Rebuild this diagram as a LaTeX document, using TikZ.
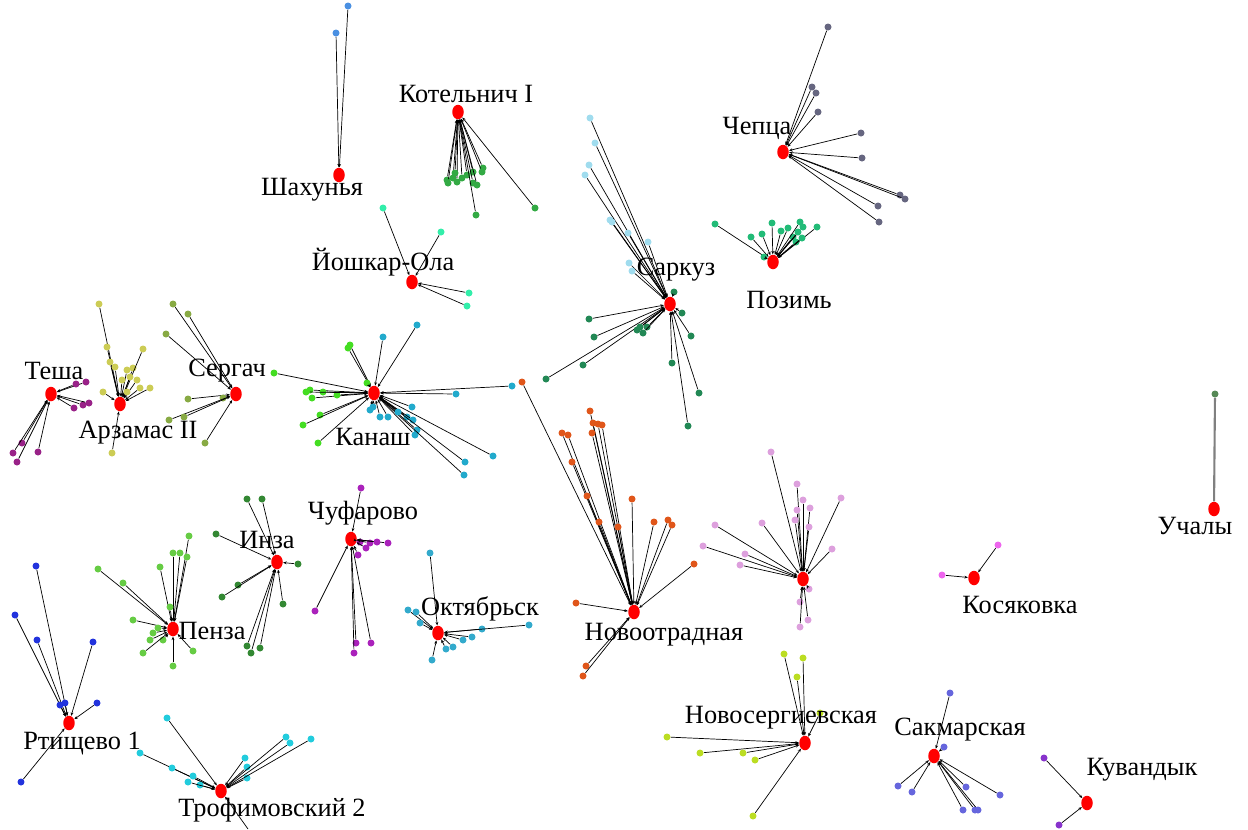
\documentclass[tikz,border=0pt]{standalone}
\usepackage{fontspec}
\setmainfont{Liberation Serif}
\usetikzlibrary{shapes.geometric,arrows.meta}
\definecolor{cSha}{HTML}{4A90E2}
\definecolor{cKot}{HTML}{33AA44}
\definecolor{cYos}{HTML}{33EEAA}
\definecolor{cChe}{HTML}{666680}
\definecolor{cPoz}{HTML}{22BB77}
\definecolor{cSarA}{HTML}{A0DCEE}
\definecolor{cSarB}{HTML}{228855}
\definecolor{cKanA}{HTML}{44DD22}
\definecolor{cKanB}{HTML}{22AACC}
\definecolor{cNov}{HTML}{E0561A}
\definecolor{cSer}{HTML}{88AA44}
\definecolor{cArz}{HTML}{CCCC55}
\definecolor{cTes}{HTML}{992288}
\definecolor{cInz}{HTML}{338833}
\definecolor{cPen}{HTML}{66CC44}
\definecolor{cChu}{HTML}{AA22BB}
\definecolor{cOkt}{HTML}{33AACC}
\definecolor{cRti}{HTML}{2233DD}
\definecolor{cTro}{HTML}{22CCDD}
\definecolor{cPnk}{HTML}{DDA0DD}
\definecolor{cNsg}{HTML}{BBDD22}
\definecolor{cSak}{HTML}{6666DD}
\definecolor{cKuv}{HTML}{8833CC}
\definecolor{cKos}{HTML}{EE66EE}
\definecolor{cUch}{HTML}{558855}
\tikzset{
  hub/.style={ellipse, fill=red, inner sep=0pt, minimum width=0.23cm, minimum height=0.29cm},
  leaf/.style={circle, inner sep=0pt, minimum size=0.14cm},
  link/.style={line width=0.4pt, -{Stealth[length=2pt,width=1.6pt]}},
  stname/.style={font=\fontsize{15}{18}\selectfont, inner sep=1pt}
}
\begin{document}
\begin{tikzpicture}[x=0.02cm, y=-0.02cm]
\useasboundingbox (0,0) rectangle (1248,829);
\node[hub] (sha) at (339,175) {};
\node[hub] (kot) at (458,112) {};
\node[hub] (yos) at (412,282) {};
\node[hub] (che) at (783,152) {};
\node[hub] (poz) at (773,262) {};
\node[hub] (sar) at (670,304) {};
\node[hub] (kan) at (374,393) {};
\node[hub] (ser) at (236,394) {};
\node[hub] (arz) at (120,404) {};
\node[hub] (tes) at (51,394) {};
\node[hub] (inz) at (277,562) {};
\node[hub] (pen) at (173,629) {};
\node[hub] (chu) at (351,539) {};
\node[hub] (okt) at (438,633) {};
\node[hub] (rti) at (69,723) {};
\node[hub] (tro) at (221,791) {};
\node[hub] (nov) at (634,612) {};
\node[hub] (pnk) at (803,579) {};
\node[hub] (nsg) at (805,743) {};
\node[hub] (sak) at (934,756) {};
\node[hub] (kuv) at (1087,803) {};
\node[hub] (kos) at (974,578) {};
\node[hub] (uch) at (1214,509) {};

\foreach \px/\py [count=\i] in {336/33,348/6}{
  \node[leaf, fill=cSha] (sha\i) at (\px,\py) {};
  \draw[link] (sha\i) -- (sha);}
\foreach \px/\py [count=\i] in {447/180,453/178,457/182,467/175,473/172,483/168,482/172,473/183,477/185,476/215,535/208,455/173,448/183,462/178}{
  \node[leaf, fill=cKot] (kot\i) at (\px,\py) {};
  \draw[link] (kot\i) -- (kot);}
\foreach \px/\py [count=\i] in {383/208,441/232,469/293,467/306}{
  \node[leaf, fill=cYos] (yos\i) at (\px,\py) {};
  \draw[link] (yos\i) -- (yos);}
\foreach \px/\py [count=\i] in {828/27,812/87,816/93,818/112,861/133,862/158,900/195,905/199,878/206,879/222}{
  \node[leaf, fill=cChe] (che\i) at (\px,\py) {};
  \draw[link] (che\i) -- (che);}
\foreach \px/\py [count=\i] in {715/224,751/237,762/234,772/223,781/231,788/228,793/237,800/222,803/227,796/242,817/227,764/257,802/238,798/232}{
  \node[leaf, fill=cPoz] (poz\i) at (\px,\py) {};
  \draw[link] (poz\i) -- (poz);}
\foreach \px/\py [count=\i] in {590/118,595/143,589/165,585/175,610/220,612/222,628/233,648/242,629/263,632/271}{
  \node[leaf, fill=cSarA] (sarA\i) at (\px,\py) {};
  \draw[link] (sarA\i) -- (sar);}
\foreach \px/\py [count=\i] in {674/292,682/313,691/336,589/319,594/337,583/365,546/379,637/330,640/327,647/327,643/333,672/363,699/393,688/426}{
  \node[leaf, fill=cSarB] (sarB\i) at (\px,\py) {};
  \draw[link] (sarB\i) -- (sar);}
\foreach \px/\py [count=\i] in {274/373,348/348,350/345,310/390,323/392,312/398,337/395,320/415,303/425,318/443,367/383,306/392}{
  \node[leaf, fill=cKanA] (kanA\i) at (\px,\py) {};
  \draw[link] (kanA\i) -- (kan);}
\foreach \px/\py [count=\i] in {383/337,417/325,512/386,456/394,370/410,380/417,388/417,407/417,413/420,412/407,417/430,415/435,465/462,464/475,493/456,373/407,398/412}{
  \node[leaf, fill=cKanB] (kanB\i) at (\px,\py) {};
  \draw[link] (kanB\i) -- (kan);}
\foreach \px/\py [count=\i] in {173/304,188/314,166/334,188/399,223/398,169/420,184/417,205/443}{
  \node[leaf, fill=cSer] (ser\i) at (\px,\py) {};
  \draw[link] (ser\i) -- (ser);}
\foreach \px/\py [count=\i] in {99/304,107/347,110/362,115/367,127/370,133/368,143/349,130/377,137/380,140/388,150/388,103/392,127/392,112/453,122/380}{
  \node[leaf, fill=cArz] (arz\i) at (\px,\py) {};
  \draw[link] (arz\i) -- (arz);}
\foreach \px/\py [count=\i] in {86/382,76/384,74/408,83/405,89/403,22/443,13/453,17/462,38/452}{
  \node[leaf, fill=cTes] (tes\i) at (\px,\py) {};
  \draw[link] (tes\i) -- (tes);}
\foreach \px/\py [count=\i] in {247/499,262/499,216/534,298/564,283/604,238/585,222/597,260/648,251/653,247/646}{
  \node[leaf, fill=cInz] (inz\i) at (\px,\py) {};
  \draw[link] (inz\i) -- (inz);}
\foreach \px/\py [count=\i] in {189/536,173/553,180/553,187/557,160/567,98/569,123/583,170/607,133/620,153/633,163/640,143/653,193/651,173/666,158/628,150/640}{
  \node[leaf, fill=cPen] (pen\i) at (\px,\py) {};
  \draw[link] (pen\i) -- (pen);}
\foreach \px/\py [count=\i] in {361/488,360/542,370/543,388/543,358/555,315/611,356/643,354/653,371/643,377/542,366/548}{
  \node[leaf, fill=cChu] (chu\i) at (\px,\py) {};
  \draw[link] (chu\i) -- (chu);}
\foreach \px/\py [count=\i] in {430/553,408/610,420/623,432/660,446/649,453/647,463/640,482/629,529/625,472/637,416/612}{
  \node[leaf, fill=cOkt] (okt\i) at (\px,\py) {};
  \draw[link] (okt\i) -- (okt);}
\foreach \px/\py [count=\i] in {36/566,15/615,37/640,93/642,65/703,60/705,97/703,21/782}{
  \node[leaf, fill=cRti] (rti\i) at (\px,\py) {};
  \draw[link] (rti\i) -- (rti);}
\foreach \px/\py [count=\i] in {167/718,140/753,172/768,193/776,200/785,188/782,247/767,247/778,286/737,290/743,311/739,245/758}{
  \node[leaf, fill=cTro] (tro\i) at (\px,\py) {};
  \draw[link] (tro\i) -- (tro);}
\coordinate (troOut) at (248,829);
\draw[link] (troOut) -- (tro);
\foreach \px/\py [count=\i] in {522/382,590/411,593/423,598/424,602/425,592/433,562/433,568/435,572/462,587/496,599/522,618/527,632/499,654/522,668/520,672/525,694/564,576/603,586/666,583/676}{
  \node[leaf, fill=cNov] (nov\i) at (\px,\py) {};
  \draw[link] (nov\i) -- (nov);}
\foreach \px/\py [count=\i] in {771/452,797/484,803/500,797/510,810/508,795/520,841/498,832/549,762/523,715/525,703/546,745/554,740/565,809/527,800/602,809/589,808/620,800/627}{
  \node[leaf, fill=cPnk] (pnk\i) at (\px,\py) {};
  \draw[link] (pnk\i) -- (pnk);}
\foreach \px/\py [count=\i] in {784/654,803/658,797/677,820/713,667/737,700/753,743/753,755/760,753/816}{
  \node[leaf, fill=cNsg] (nsg\i) at (\px,\py) {};
  \draw[link] (nsg\i) -- (nsg);}
\foreach \px/\py [count=\i] in {950/693,944/747,898/786,912/792,966/787,963/810,975/810,978/810,1000/795}{
  \node[leaf, fill=cSak] (sak\i) at (\px,\py) {};
  \draw[link] (sak\i) -- (sak);}
\foreach \px/\py [count=\i] in {1044/758,1059/825}{
  \node[leaf, fill=cKuv] (kuv\i) at (\px,\py) {};
  \draw[link] (kuv\i) -- (kuv);}
\foreach \px/\py [count=\i] in {942/575,998/545}{
  \node[leaf, fill=cKos] (kos\i) at (\px,\py) {};
  \draw[link] (kos\i) -- (kos);}
\node[leaf, fill=cUch] (uch1) at (1215,394) {};
\draw[gray, line width=1.2pt] (uch1) -- (uch);

\node[stname] (shaT) at (312,190) {Шахунья};
\node[stname] (kotT) at (466,94) {Котельнич I};
\node[stname] (yosT) at (383,262) {Йошкар-Ола};
\node[stname] (cheT) at (757,128) {Чепца};
\node[stname] (pozT) at (789,300) {Позимь};
\node[stname] (sarT) at (676,270) {Саркуз};
\node[stname] (kanT) at (373,437) {Канаш};
\node[stname] (serT) at (227,371) {Сергач};
\node[stname] (arzT) at (138,433) {Арзамас II};
\node[stname] (tesT) at (54,371) {Теша};
\node[stname] (inzT) at (267,540) {Инза};
\node[stname] (penT) at (212,631) {Пенза};
\node[stname] (chuT) at (363,513) {Чуфарово};
\node[stname] (oktT) at (480,609) {Октябрьск};
\node[stname] (rtiT) at (82,744) {Ртищево 1};
\node[stname] (troT) at (272,810) {Трофимовский 2};
\node[stname] (novT) at (664,635) {Новоотрадная};
\node[stname] (nsgT) at (781,718) {Новосергиевская};
\node[stname] (sakT) at (960,730) {Сакмарская};
\node[stname] (kuvT) at (1142,770) {Кувандык};
\node[stname] (kosT) at (1020,605) {Косяковка};
\node[stname] (uchT) at (1195,526) {Учалы};
\end{tikzpicture}
\end{document}
